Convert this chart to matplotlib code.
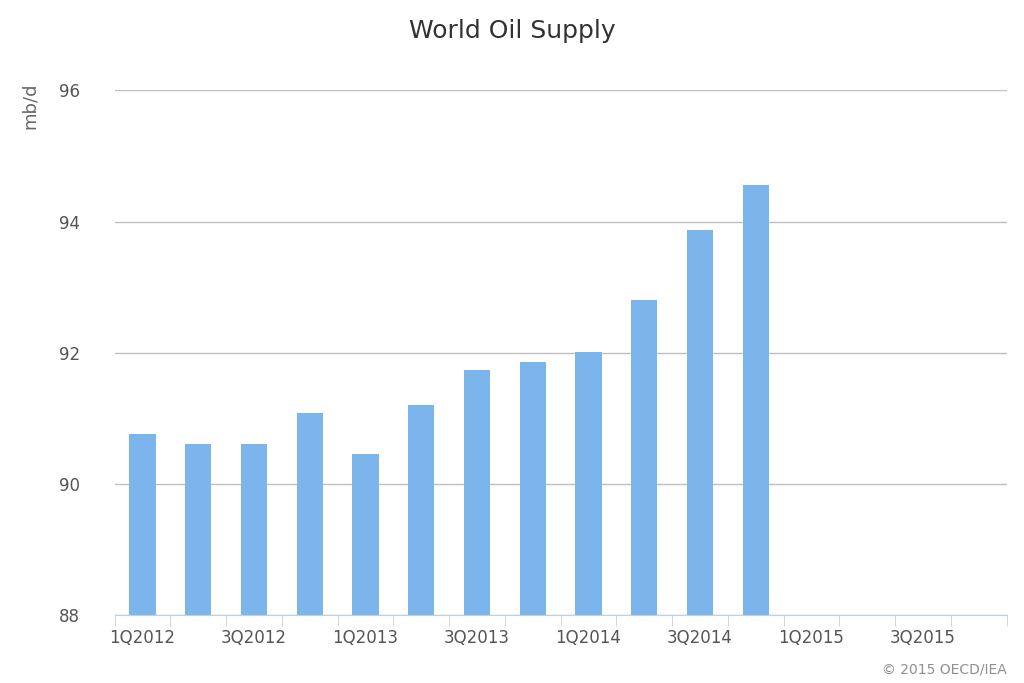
import matplotlib.pyplot as plt
import numpy as np

quarters = [f"{q}Q{y}" for y in range(2012, 2016) for q in range(1, 5)]
supply = [90.76, 90.60, 90.60, 91.08, 90.45, 91.20, 91.73, 91.86, 92.01, 92.80, 93.87, 94.56]

fig = plt.figure(figsize=(10.24, 6.83), dpi=100)
ax = fig.add_axes([0.112, 0.0996, 0.871, 0.768])

x = np.arange(len(quarters))
ax.bar(x[:len(supply)], np.array(supply) - 88, bottom=88, width=0.47, color='#7cb5ec')

ax.set_xlim(-0.5, len(quarters) - 0.5)
ax.set_ylim(88, 96)
ax.set_yticks([88, 90, 92, 94, 96])
ax.yaxis.grid(True, color='#c0c0c0', linewidth=1)
ax.set_axisbelow(True)
ax.set_xticks(x[::2])
ax.set_xticklabels(quarters[::2])
ax.set_xticks(np.arange(-0.5, len(quarters), 1), minor=True)
ax.tick_params(axis='x', which='major', length=0, labelsize=12, colors='#555555', pad=10)
ax.tick_params(axis='x', which='minor', length=8, color='#c0d0e0')
ax.tick_params(axis='y', length=0, labelsize=12, colors='#555555', pad=25)
for side in ['top', 'right', 'left']:
    ax.spines[side].set_visible(False)
ax.spines['bottom'].set_color('#c0d0e0')

ax.set_ylabel("mb/d", fontsize=13, color='#666666')
ax.yaxis.set_label_coords(-0.085, 0.97)
fig.text(0.5, 0.955, "World Oil Supply", ha='center', va='center', fontsize=18, color='#333333')
fig.text(0.983, 0.02, "© 2015 OECD/IEA", ha='right', va='center', fontsize=10, color='#909090')

fig.savefig("out.png", dpi=100)
